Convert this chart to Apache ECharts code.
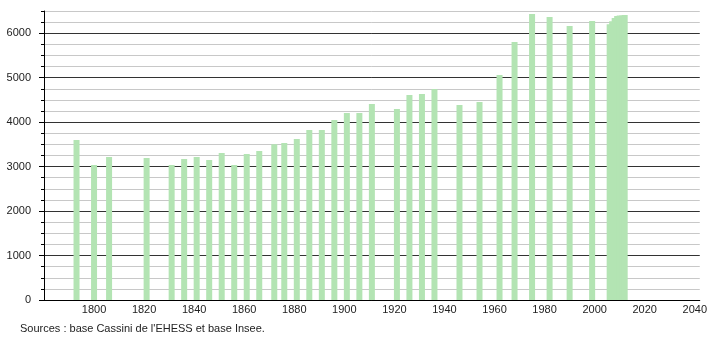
<!DOCTYPE html>
<html>
<head>
<meta charset="utf-8">
<script src="https://cdn.jsdelivr.net/npm/echarts@6/dist/echarts.min.js"></script>
<style>html,body{margin:0;padding:0;background:#fff}#c{width:710px;height:340px}</style>
</head>
<body>
<div id="c"></div>
<script>
var years = [1793,1800,1806,1821,1831,1836,1841,1846,1851,1856,1861,1866,1872,1876,1881,1886,1891,1896,1901,1906,1911,1921,1926,1931,1936,1946,1954,1962,1968,1975,1982,1990,1999,2006,2007,2008,2009,2010,2011,2012];
var population = [3600,3037,3217,3195,3037,3172,3217,3150,3307,3037,3285,3352,3505,3532,3622,3825,3825,4050,4207,4207,4410,4297,4612,4635,4747,4387,4455,5062,5805,6435,6367,6165,6277,6200,6270,6340,6390,6400,6400,6410];
var xTicks = [1800,1820,1840,1860,1880,1900,1920,1940,1960,1980,2000,2020,2040];
var yTicks = [0,1000,2000,3000,4000,5000,6000];
var sourceText = "Sources : base Cassini de l'EHESS et base Insee.";

var font = 'Liberation Sans, Arial, sans-serif';
var chart = echarts.init(document.getElementById('c'), null, {renderer: 'canvas'});
var data = years.map(function (y, i) { return [y, population[i]]; });
chart.setOption({
  animation: false,
  textStyle: {fontFamily: font},
  title: {
    text: sourceText, left: 20, top: 323, padding: 0,
    textStyle: {fontSize: 11, fontWeight: 'normal', color: '#222', fontFamily: font}
  },
  grid: [
    {left: 44, right: 9, top: 11, bottom: 40},
    {left: 44, right: 9, top: 300 - 6000 * 289 / 6500, bottom: 40}
  ],
  xAxis: [
    {
      type: 'value', gridIndex: 0, min: 1780, max: 2042, interval: 20,
      axisLine: {show: true, lineStyle: {color: '#000', width: 1}},
      axisTick: {show: false},
      splitLine: {show: false},
      axisLabel: {
        fontSize: 11, color: '#222', margin: 4, fontFamily: font,
        formatter: function (v) { return xTicks.indexOf(v) >= 0 ? String(v) : ''; }
      }
    },
    {type: 'value', gridIndex: 1, min: 1780, max: 2042, show: false}
  ],
  yAxis: [
    {
      type: 'value', gridIndex: 0, min: 0, max: 6500, interval: 250,
      axisLine: {show: true, lineStyle: {color: '#000', width: 1}},
      axisTick: {show: true, length: 3, lineStyle: {color: '#000'}},
      splitLine: {show: true, lineStyle: {color: ['#333', '#c8c8c8', '#c8c8c8', '#c8c8c8'], width: 1}},
      axisLabel: {
        fontSize: 11, color: '#222', margin: 13, fontFamily: font,
        formatter: function (v) { return yTicks.indexOf(v) >= 0 ? String(v) : ''; }
      }
    },
    {
      type: 'value', gridIndex: 1, min: 0, max: 6000, interval: 1000,
      axisLine: {show: false},
      axisTick: {show: true, length: 5, lineStyle: {color: '#000'}},
      splitLine: {show: false},
      axisLabel: {show: false}
    }
  ],
  series: [{
    type: 'bar', xAxisIndex: 0, yAxisIndex: 0,
    data: data, barWidth: 6,
    itemStyle: {color: '#b3e4b3'}
  }]
});
</script>
</body>
</html>
